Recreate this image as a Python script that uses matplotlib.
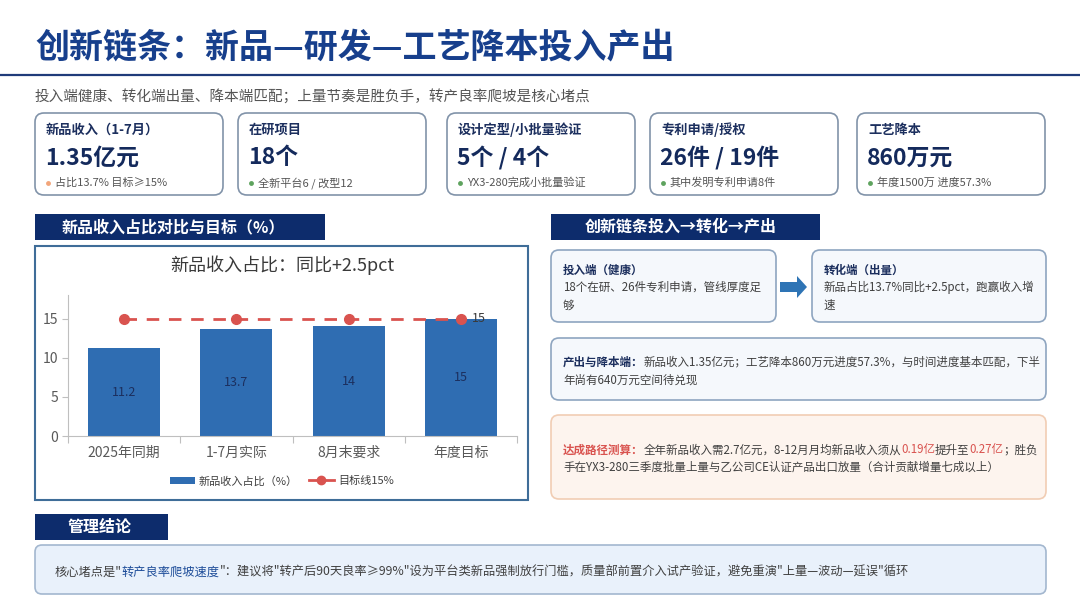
import matplotlib
matplotlib.use("Agg")
import matplotlib.pyplot as plt
from matplotlib.patches import FancyBboxPatch, Rectangle, FancyArrow
from matplotlib.lines import Line2D
from matplotlib.patches import Patch

plt.rcParams['font.family'] = ['Noto Sans CJK SC', 'DejaVu Sans']

# ---- data ----
title = "创新链条：新品—研发—工艺降本投入产出"
subtitle = "投入端健康、转化端出量、降本端匹配；上量节奏是胜负手，转产良率爬坡是核心堵点"

kpi_labels = ["新品收入（1-7月）", "在研项目", "设计定型/小批量验证", "专利申请/授权", "工艺降本"]
kpi_values = ["1.35亿元", "18个", "5个 / 4个", "26件 / 19件", "860万元"]
kpi_notes = ["占比13.7% 目标≥15%", "全新平台6 / 改型12", "YX3-280完成小批量验证",
             "其中发明专利申请8件", "年度1500万 进度57.3%"]
kpi_dots = ["#f2a57a", "#5ea35e", "#5ea35e", "#5ea35e", "#5ea35e"]

categories = ["2025年同期", "1-7月实际", "8月末要求", "年度目标"]
share_pct = [11.2, 13.7, 14, 15]
target_pct = [15, 15, 15, 15]

NAVY = "#0d2c6c"
TITLE_C = "#173f8c"
GRAY = "#404040"
RED = "#d9534f"

W, H = 1080, 608
fig = plt.figure(figsize=(W / 100, H / 100), dpi=100)
ax = fig.add_axes([0, 0, 1, 1])
ax.set_xlim(0, W)
ax.set_ylim(H, 0)
ax.axis("off")


def rbox(x0, y0, x1, y1, fc, ec, lw=1.2, r=8):
    ax.add_patch(FancyBboxPatch((x0, y0), x1 - x0, y1 - y0,
                                boxstyle=f"round,pad=0,rounding_size={r}",
                                fc=fc, ec=ec, lw=lw, zorder=1))


def header(x0, y0, x1, y1, txt, tx):
    ax.add_patch(Rectangle((x0, y0), x1 - x0, y1 - y0, fc=NAVY, ec="none", zorder=1))
    ax.text(tx, (y0 + y1) / 2, txt, color="white", fontsize=11.5, weight="bold",
            va="center", ha="left", zorder=2)


def rich(x, y, parts, size):
    t = None
    for s, c, w in parts:
        if t is None:
            t = ax.text(x, y, s, color=c, weight=w, fontsize=size, va="center", ha="left", zorder=3)
        else:
            t = ax.annotate(s, xy=(1, 0), xycoords=t, color=c, weight=w, fontsize=size,
                            va="bottom", ha="left", zorder=3)
    return t


# ---- title ----
ax.text(35, 47, title, fontsize=24.5, weight="bold", color=TITLE_C, va="center", ha="left")
ax.plot([0, W], [75, 75], color="#1f3b7a", lw=1.6)
ax.text(35, 96, subtitle, fontsize=10.5, color="#555555", va="center", ha="left")

# ---- KPI cards ----
card_x = [35, 238, 447, 650, 857]
card_w = 188
for i in range(5):
    x0 = card_x[i]
    rbox(x0, 113, x0 + card_w, 195, "white", "#8193a9", lw=1.2, r=9)
    ax.text(x0 + 11, 130, kpi_labels[i], fontsize=9.5, weight="bold", color="#1c2f5e",
            va="center", ha="left")
    ax.text(x0 + 10, 158, kpi_values[i], fontsize=16.5, weight="bold", color="#142a5c",
            va="center", ha="left")
    ax.plot(x0 + 13, 183, "o", ms=3.5, color=kpi_dots[i], mec="none")
    ax.text(x0 + 20, 183, kpi_notes[i], fontsize=8, color="#555555", va="center", ha="left")

# ---- left chart panel ----
header(35, 214, 325, 240, "新品收入占比对比与目标（%）", 62)
ax.add_patch(Rectangle((35, 246), 493, 254, fc="white", ec="#3f6d98", lw=1.5, zorder=1))
ax.text(282, 265, "新品收入占比：同比+2.5pct", fontsize=13, color="#3a3a3a",
        va="center", ha="center", zorder=3)

cax = fig.add_axes([68 / W, 1 - 436 / H, 449 / W, 141 / H])
cax.set_facecolor("none")
xs = list(range(len(categories)))
bars = cax.bar(xs, share_pct, width=0.64, color="#2f6db2", zorder=2)
for x, v in zip(xs, share_pct):
    cax.text(x, v / 2, f"{v:g}", ha="center", va="center", fontsize=9, color="#1c2f5e", zorder=3)
cax.plot(xs, target_pct, color=RED, lw=2, ls=(0, (4.5, 3.5)), marker="o", ms=7, zorder=4)
cax.text(xs[-1] + 0.1, target_pct[-1], f"{target_pct[-1]:g}", ha="left", va="center",
         fontsize=9, color="#3a3a3a", zorder=5)
cax.set_xlim(-0.5, 3.5)
cax.set_ylim(0, 18)
cax.set_yticks([0, 5, 10, 15])
cax.set_xticks([-0.5, 0.5, 1.5, 2.5, 3.5], labels=[""] * 5)
cax.set_xticks(xs, labels=categories, minor=True)
cax.tick_params(axis="x", which="major", length=5, color="#bfbfbf")
cax.tick_params(axis="x", which="minor", length=0, pad=7, labelsize=10, labelcolor="#595959")
cax.tick_params(axis="y", length=4, color="#bfbfbf", labelsize=10, labelcolor="#595959", pad=3)
for s in ["top", "right"]:
    cax.spines[s].set_visible(False)
for s in ["left", "bottom"]:
    cax.spines[s].set_color("#bfbfbf")

handles = [Patch(fc="#2f6db2", ec="none"),
           Line2D([], [], color=RED, lw=2, marker="o", ms=6)]
fig.legend(handles, ["新品收入占比（%）", "目标线15%"], loc="center",
           bbox_to_anchor=(282 / W, 1 - 481 / H), ncol=2, frameon=False, fontsize=8,
           handlelength=2.2, columnspacing=1.0, handletextpad=0.4, labelcolor="#404040")

# ---- right flow panel ----
header(551, 214, 820, 240, "创新链条投入→转化→产出", 585)
rbox(551, 250, 776, 322, "#f5f8fc", "#8ea5c0", lw=1.2, r=8)
rbox(812, 250, 1046, 322, "#f5f8fc", "#8ea5c0", lw=1.2, r=8)
ax.add_patch(FancyArrow(780, 287, 17, 0, width=10, head_width=22, head_length=10,
                        length_includes_head=False, fc="#2e74b5", ec="none", zorder=2))

ax.text(563, 270, "投入端（健康）", fontsize=8.3, weight="bold", color="#1c2f5e", va="center")
ax.text(563, 287, "18个在研、26件专利申请，管线厚度足", fontsize=8.3, color=GRAY, va="center")
ax.text(563, 305, "够", fontsize=8.3, color=GRAY, va="center")
ax.text(824, 270, "转化端（出量）", fontsize=8.3, weight="bold", color="#1c2f5e", va="center")
ax.text(824, 287, "新品占比13.7%同比+2.5pct，跑赢收入增", fontsize=8.3, color=GRAY, va="center")
ax.text(824, 305, "速", fontsize=8.3, color=GRAY, va="center")

rbox(551, 338, 1046, 400, "#f5f8fc", "#8ea5c0", lw=1.2, r=8)
rich(563, 362, [("产出与降本端：", "#1c2f5e", "bold"),
                ("新品收入1.35亿元；工艺降本860万元进度57.3%，与时间进度基本匹配，下半", GRAY, "normal")], 8.3)
ax.text(563, 380, "年尚有640万元空间待兑现", fontsize=8.3, color=GRAY, va="center")

rbox(551, 415, 1046, 499, "#fdf4ee", "#f1cdb4", lw=1.2, r=8)
rich(563, 450, [("达成路径测算：", RED, "bold"),
                ("全年新品收入需2.7亿元，8-12月月均新品收入须从", GRAY, "normal"),
                ("0.19亿", RED, "normal"),
                ("提升至", GRAY, "normal"),
                ("0.27亿", RED, "normal"),
                ("；胜负", GRAY, "normal")], 8.3)
ax.text(563, 467, "手在YX3-280三季度批量上量与乙公司CE认证产品出口放量（合计贡献增量七成以上）",
        fontsize=8.3, color=GRAY, va="center")

# ---- conclusion ----
header(35, 514, 168, 540, "管理结论", 68)
rbox(35, 545, 1046, 594, "#e9f1fb", "#a3b7cf", lw=1.2, r=7)
rich(55, 572, [("核心堵点是\"", GRAY, "normal"),
               ("转产良率爬坡速度", "#1f4e9a", "normal"),
               ("\"：建议将\"转产后90天良率≥99%\"设为平台类新品强制放行门槛，质量部前置介入试产验证，避免重演\"上量—波动—延误\"循环",
                GRAY, "normal")], 8.8)

fig.savefig("out.png", dpi=100)
